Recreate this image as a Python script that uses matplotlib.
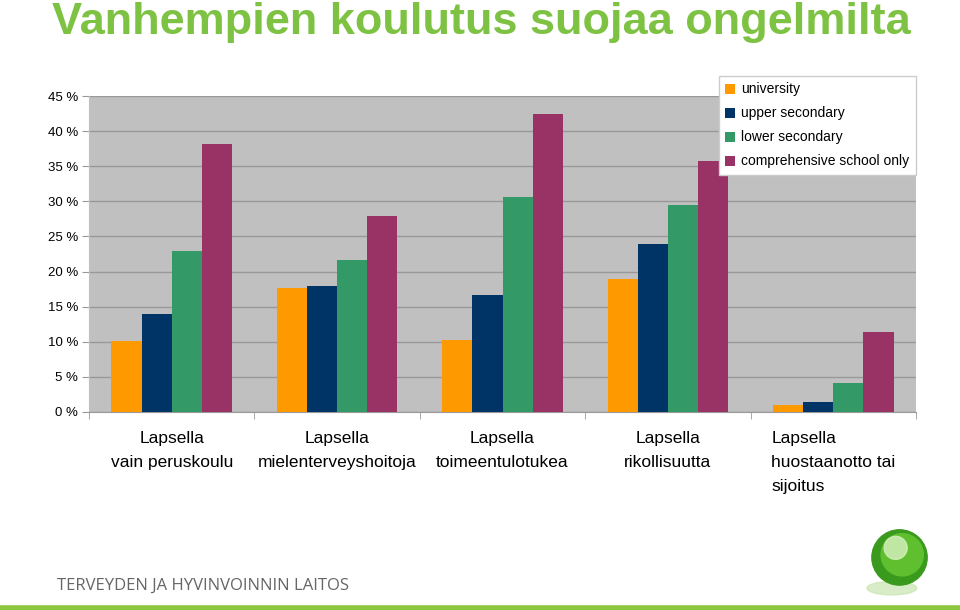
import numpy as np
import matplotlib
matplotlib.use("Agg")
from matplotlib import pyplot as plt
from matplotlib.patches import Circle, Ellipse

# data (percent of children)
categories = ["Lapsella\nvain peruskoulu", "Lapsella\nmielenterveyshoitoja",
              "Lapsella\ntoimeentulotukea", "Lapsella\nrikollisuutta",
              "Lapsella\nhuostaanotto tai\nsijoitus"]
series_names = ["university", "upper secondary", "lower secondary",
                "comprehensive school only"]
university = [10.1, 17.7, 10.3, 18.9, 1.0]
upper_secondary = [14.0, 17.9, 16.7, 23.9, 1.4]
lower_secondary = [22.9, 21.7, 30.6, 29.5, 4.1]
comprehensive_only = [38.2, 27.9, 42.5, 35.8, 11.4]
y_ticks = [0, 5, 10, 15, 20, 25, 30, 35, 40, 45]

colors = ["#ff9900", "#003366", "#339966", "#993366"]

plt.rcParams['font.family'] = ['Liberation Sans', 'DejaVu Sans']

fig = plt.figure(figsize=(9.6, 6.1), dpi=100)
ax = fig.add_axes([0.0927, 0.3246, 0.8615, 0.518])
ax.set_facecolor("#c0c0c0")

x = np.arange(len(categories))
width = 0.182
all_series = [university, upper_secondary, lower_secondary, comprehensive_only]
for i, vals in enumerate(all_series):
    ax.bar(x + (i - 1.5) * width, vals, width, color=colors[i],
           label=series_names[i], zorder=3)

ax.set_xlim(-0.5, len(categories) - 0.5)
ax.set_ylim(0, 45)
ax.set_yticks(y_ticks)
ax.set_yticklabels([f"{t} %" for t in y_ticks], fontsize=9.5)
ax.yaxis.grid(True, color="#999999", linewidth=1, zorder=0)
ax.set_axisbelow(True)

# category ticks at group boundaries, labels at centres
ax.set_xticks(np.arange(-0.5, len(categories)), minor=True)
ax.set_xticks(x)
ax.set_xticklabels(categories, fontsize=12.5, linespacing=1.75, va="top")
ax.get_xticklabels()[-1].set_multialignment("left")
ax.tick_params(axis="x", which="major", length=0, pad=14)
ax.tick_params(axis="x", which="minor", length=5, color="#999999")
ax.tick_params(axis="y", length=5, color="#999999", pad=3)
for s in ["top", "right"]:
    ax.spines[s].set_visible(False)
ax.spines["left"].set_color("#c0c0c0")
ax.spines["bottom"].set_color("#999999")

leg = ax.legend(loc="upper right", bbox_to_anchor=(0.954, 0.875),
                bbox_transform=fig.transFigure, fontsize=10, frameon=True,
                fancybox=False, handlelength=0.7, handleheight=0.7,
                handletextpad=0.5, labelspacing=0.72, borderpad=0.45,
                borderaxespad=0)
leg.get_frame().set_edgecolor("#cccccc")
leg.get_frame().set_linewidth(1)
leg.get_frame().set_alpha(1)

fig.text(0.054, 0.963, "Vanhempien koulutus suojaa ongelmilta", color="#7dc242",
         fontsize=32.5, fontweight="bold", va="center", ha="left")
fig.text(0.059, 0.039, "TERVEYDEN JA HYVINVOINNIN LAITOS", color="#666666",
         fontsize=12, va="center", ha="left", family=["Open Sans", "DejaVu Sans"])
fig.add_artist(plt.Line2D([0, 1], [0.004, 0.004], color="#8cc63f",
                          linewidth=4, transform=fig.transFigure))

# logo ball
logo = fig.add_axes([0.895, 0.02, 0.08, 0.126])
logo.set_xlim(-1, 1)
logo.set_ylim(-1, 1)
logo.set_aspect("equal")
logo.axis("off")
logo.add_patch(Ellipse((-0.15, -0.75), 1.3, 0.35, color="#c8e6b0", alpha=0.7))
logo.add_patch(Circle((0.05, 0.05), 0.72, color="#3a9a1e"))
logo.add_patch(Circle((0.12, 0.12), 0.55, color="#5fbf2e"))
logo.add_patch(Circle((-0.05, 0.3), 0.3, color="#d8f0c0", alpha=0.8))

fig.savefig("out.png", dpi=100)
